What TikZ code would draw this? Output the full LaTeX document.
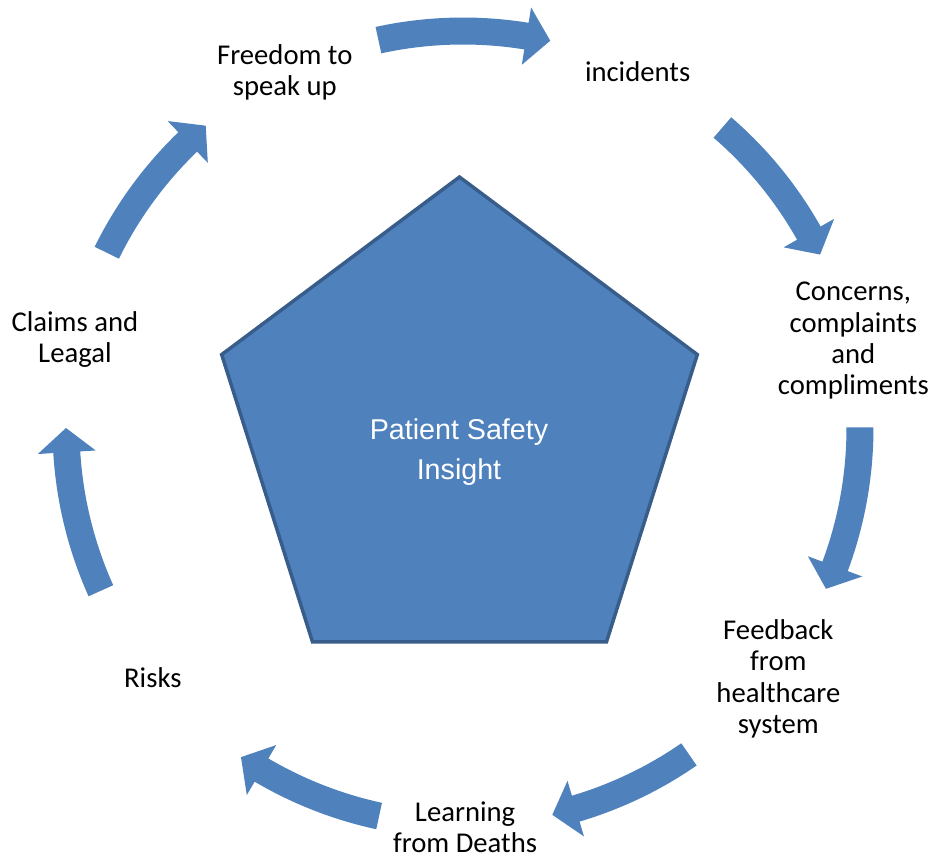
\documentclass[tikz,border=0pt]{standalone}
\usepackage{fontspec}
\setmainfont{Carlito}
\newfontfamily\hubfont{Liberation Sans}
\usetikzlibrary{shapes.geometric}

\definecolor{cycleblue}{RGB}{79,129,189}
\definecolor{cycleedge}{RGB}{56,93,138}

\begin{document}
\begin{tikzpicture}[x=0.75pt, y=0.75pt]

% Styles
\tikzset{
  hub/.style={
    draw=cycleedge,
    line width=2.6pt,
    fill=cycleblue,
    regular polygon,
    regular polygon sides=5,
    minimum size=385.5pt,
    inner sep=0pt,
    xscale=0.973,
    transform shape
  },
  hubtext/.style={
    text=white,
    font=\hubfont\fontsize{21.5}{30}\selectfont,
    align=center
  },
  stage/.style={
    font=\fontsize{21.5}{23.5}\selectfont,
    align=center,
    inner sep=0pt
  },
  cyclearrow/.style={
    fill=cycleblue,
    draw=none
  }
}

\useasboundingbox (-463,-426) rectangle (470,428);

% Centre pentagon
\node[hub] (insight) at (-3.5,-6) {};
\node[hubtext] (insighttext) at (-4,-24.5) {Patient Safety\\Insight};

% Stages round the cycle
\node[stage] (freedom) at (116.6:398) {Freedom to\\speak up};
\node[stage] (incidents) at (63.9:397) {incidents};
\node[stage] (concerns) at (12.6:400) {Concerns,\\complaints\\and\\compliments};
\node[stage] (feedback) at (-38.5:403) {Feedback\\from\\healthcare\\system};
\node[stage] (learning) at (-89.7:399) {Learning\\from Deaths};
\node[stage] (risks) at (-141.2:398) {Risks};
\node[stage] (claims) at (167.2:398) {Claims and\\Leagal};

% Block arrows between the stages (tail angle / tip angle)
\foreach \tail/\tip in {102.3/77.3, 49.2/25.9, 0.1/-23.9, -55.3/-77,
                        -102.2/-124, -155.8/-180, 153.8/130.4}{
  \pgfmathsetmacro{\base}{\tip+3.5}
  \fill[cyclearrow] (\tail:410.5) arc[start angle=\tail, end angle=\base, radius=410.5]
    -- (\base:426) -- (\tip:397) -- (\base:368) -- (\base:383.5)
    arc[start angle=\base, end angle=\tail, radius=383.5] -- cycle;
}

\end{tikzpicture}
\end{document}
